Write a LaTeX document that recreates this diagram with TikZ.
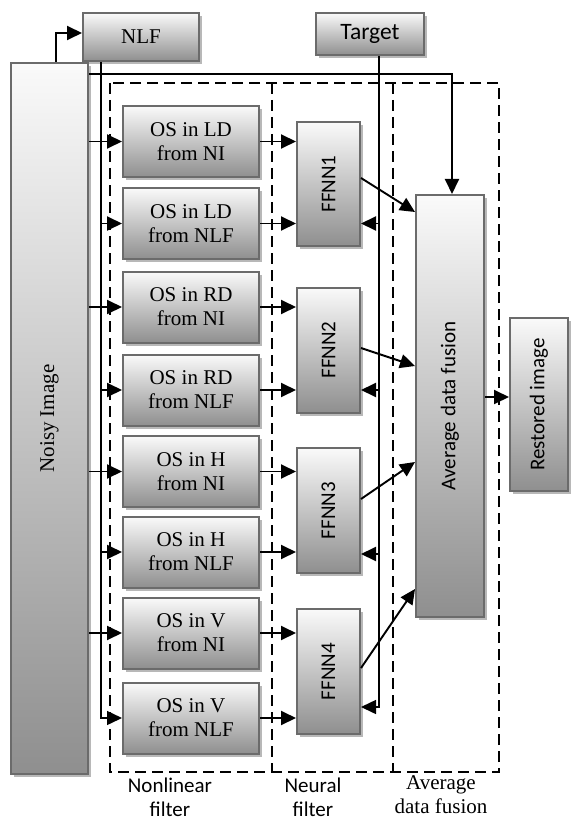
\documentclass[tikz,border=0pt]{standalone}
\usepackage{fontspec}
\setmainfont{Liberation Serif}
\setsansfont{Carlito}
\usetikzlibrary{arrows.meta,shadows}
\begin{document}
\begin{tikzpicture}[x=1pt,y=-1pt,
  box/.style={draw=black!58,line width=2pt,top color=black!2,bottom color=black!44,inner sep=0pt,
    drop shadow={shadow xshift=3pt,shadow yshift=-3pt,fill=black!28,opacity=1}},
  serif/.style={font=\fontsize{21}{24}\selectfont\rmfamily,align=center},
  sans/.style={font=\fontsize{21}{25}\selectfont\sffamily,align=center},
  arr/.style={line width=1.9pt,-{Triangle[length=15pt,width=14pt]}},
  thinarr/.style={line width=1.5pt,-{Triangle[length=15pt,width=14pt]}},
  dashbox/.style={line width=1.8pt,dash pattern=on 11pt off 6pt}
]
\useasboundingbox (0,0) rectangle (571,821);

% dashed groups
\draw[dashbox] (110,83) rectangle (499,772);
\draw[dashbox] (272,83) -- (272,772);
\draw[dashbox] (393,83) -- (393,772);

% boxes
\node[box,serif,minimum width=116pt,minimum height=48pt] (nlf) at (141,37) {NLF};
\node[box,sans,font=\fontsize{23.5}{26}\selectfont\sffamily,minimum width=108pt,minimum height=42pt] (target) at (370,34) {Target};

\node[box,minimum width=77pt,minimum height=711pt] (noisy) at (49.5,418.5) {};
\node[serif,rotate=90] (noisyt) at (noisy.center) {Noisy Image};

\node[box,serif,minimum width=136pt,minimum height=71pt] (os1) at (191,141.5) {OS in LD\\from NI};
\node[box,serif,minimum width=136pt,minimum height=71pt] (os2) at (191,223.5) {OS in LD\\from NLF};
\node[box,serif,minimum width=136pt,minimum height=71pt] (os3) at (191,307) {OS in RD\\from NI};
\node[box,serif,minimum width=136pt,minimum height=71pt] (os4) at (191,390) {OS in RD\\from NLF};
\node[box,serif,minimum width=136pt,minimum height=71pt] (os5) at (191,471.5) {OS in H\\from NI};
\node[box,serif,minimum width=136pt,minimum height=71pt] (os6) at (191,552) {OS in H\\from NLF};
\node[box,serif,minimum width=136pt,minimum height=71pt] (os7) at (191,633) {OS in V\\from NI};
\node[box,serif,minimum width=136pt,minimum height=71pt] (os8) at (191,718) {OS in V\\from NLF};

\node[box,minimum width=63pt,minimum height=124pt] (ffnn1) at (328.5,184) {};
\node[box,minimum width=63pt,minimum height=125pt] (ffnn2) at (328.5,350) {};
\node[box,minimum width=63pt,minimum height=125pt] (ffnn3) at (328.5,510.5) {};
\node[box,minimum width=63pt,minimum height=125pt] (ffnn4) at (328.5,671.5) {};
\node[sans,rotate=90] (f1t) at (ffnn1.center) {FFNN1};
\node[sans,rotate=90] (f2t) at (ffnn2.center) {FFNN2};
\node[sans,rotate=90] (f3t) at (ffnn3.center) {FFNN3};
\node[sans,rotate=90] (f4t) at (ffnn4.center) {FFNN4};

\node[box,minimum width=68pt,minimum height=422pt] (avg) at (450,406) {};
\node[sans,rotate=90] (avgt) at (avg.center) {Average data fusion};

\node[box,minimum width=58pt,minimum height=173pt] (rest) at (539,404.5) {};
\node[sans,rotate=90] (restt) at (rest.center) {Restored image};

% connectors
\draw[arr] ([xshift=6.5pt]noisy.north) |- ([yshift=4pt]nlf.west);
\draw[arr] ([yshift=-12pt]noisy.north east) -| ([xshift=2pt]avg.north);

\coordinate (nlfx) at ([xshift=19pt]nlf.south west);
\draw[thinarr] (nlfx) |- (os8.west);
\draw[arr] (nlfx |- os2.west) -- (os2.west);
\draw[arr] (nlfx |- os4.west) -- (os4.west);
\draw[arr] (nlfx |- os6.west) -- (os6.west);

\draw[arr] (noisy.east |- os1.west) -- (os1.west);
\draw[arr] (noisy.east |- os3.west) -- (os3.west);
\draw[arr] (noisy.east |- os5.west) -- (os5.west);
\draw[arr] (noisy.east |- os7.west) -- (os7.west);

\draw[arr] (os1.east) -- (os1.east -| ffnn1.west);
\draw[arr] (os2.east) -- (os2.east -| ffnn1.west);
\draw[arr] (os3.east) -- (os3.east -| ffnn2.west);
\draw[arr] (os4.east) -- (os4.east -| ffnn2.west);
\draw[arr] (os5.east) -- (os5.east -| ffnn3.west);
\draw[arr] (os6.east) -- (os6.east -| ffnn3.west);
\draw[arr] (os7.east) -- (os7.east -| ffnn4.west);
\draw[arr] (os8.east) -- (os8.east -| ffnn4.west);

\coordinate (tx) at ([xshift=9pt]target.south);
\draw[thinarr] (tx) |- ([yshift=-35.5pt]ffnn4.east);
\draw[arr] (tx |- os2.east) -- (os2.east -| ffnn1.east);
\draw[arr] (tx |- os4.east) -- (os4.east -| ffnn2.east);
\draw[arr] ([yshift=-2pt]tx |- os6.east) -- ([yshift=-2pt]os6.east -| ffnn3.east);

\draw[arr] ([yshift=6pt]ffnn1.east) -- ([yshift=-18pt]avg.north west);
\draw[arr] ([yshift=2pt]ffnn2.east) -- ([yshift=-172pt]avg.north west);
\draw[arr] ([yshift=11.5pt]ffnn3.east) -- ([yshift=-268pt]avg.north west);
\draw[arr] ([yshift=3.5pt]ffnn4.east) -- ([yshift=-395pt]avg.north west);

\draw[arr] ([yshift=9pt]avg.east) -- ([yshift=9pt]avg.east -| rest.west);

% bottom labels
\node[sans,font=\fontsize{21}{24}\selectfont\sffamily] (lab1) at (170,797) {Nonlinear\\filter};
\node[sans,font=\fontsize{21}{24}\selectfont\sffamily] (lab2) at (313,797) {Neural\\filter};
\node[serif] (lab3) at (441,795) {Average\\data fusion};
\end{tikzpicture}
\end{document}
